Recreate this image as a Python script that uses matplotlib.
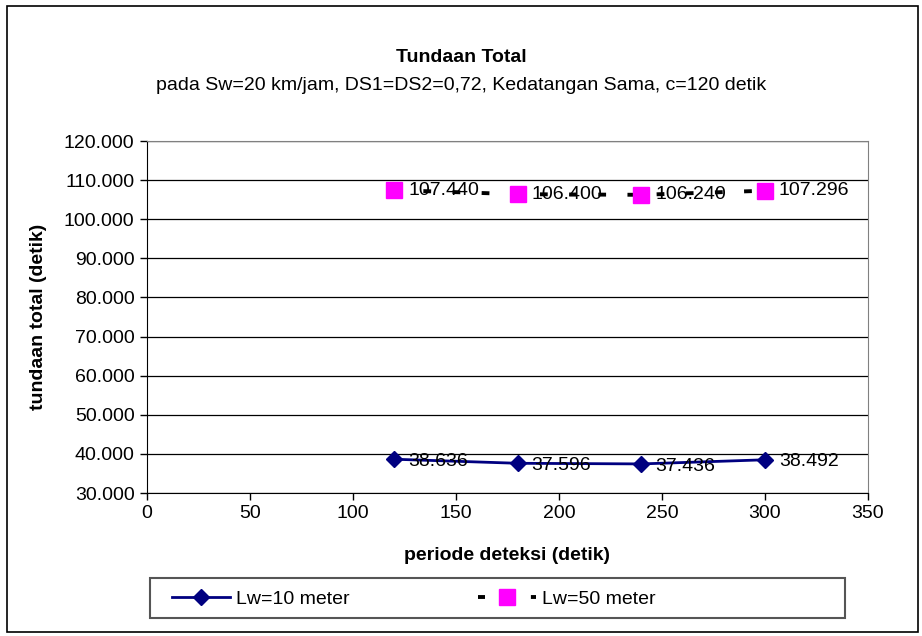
import matplotlib
matplotlib.use("Agg")
import matplotlib.pyplot as plt
from matplotlib.patches import Rectangle
from matplotlib.lines import Line2D

plt.rcParams["font.family"] = ["Liberation Sans", "DejaVu Sans"]

periode = [120, 180, 240, 300]
lw10 = [38.636, 37.596, 37.436, 38.492]
lw50 = [107.440, 106.400, 106.240, 107.296]
labels = ["Lw=10 meter", "Lw=50 meter"]
yticks = [30, 40, 50, 60, 70, 80, 90, 100, 110, 120]
xticks = [0, 50, 100, 150, 200, 250, 300, 350]

fig = plt.figure(figsize=(9.22, 6.36), dpi=100)
ax = fig.add_axes([147 / 922, 1 - 493 / 636, 721 / 922, 352 / 636])

fs = 14
dash = (0, (2, 5.5))

ax.plot(periode, lw10, color="#000080", lw=2, marker="D", ms=8,
        markerfacecolor="#000080", markeredgecolor="#000080", zorder=3)
ax.plot(periode, lw50, color="black", lw=2.8, linestyle=dash,
        marker="s", ms=12, markerfacecolor="#FF00FF", markeredgecolor="#FF00FF",
        zorder=3)

for x, y in zip(periode, lw10):
    ax.annotate(f"{y:.3f}", (x, y), xytext=(10, -1.5), textcoords="offset points",
                ha="left", va="center", fontsize=fs, zorder=4)
for x, y in zip(periode, lw50):
    ax.annotate(f"{y:.3f}", (x, y), xytext=(10, 0), textcoords="offset points",
                ha="left", va="center", fontsize=fs, zorder=4)

ax.set_xlim(0, 350)
ax.set_ylim(30, 120)
ax.set_xticks(xticks)
ax.set_yticks(yticks)
ax.set_yticklabels([f"{v}.000" for v in yticks], fontsize=fs)
ax.set_xticklabels([str(v) for v in xticks], fontsize=fs)
ax.tick_params(direction="out", length=5, width=1, color="black", pad=4)

ax.grid(axis="y", color="black", lw=0.9)
ax.set_axisbelow(True)
for side in ["top", "right"]:
    ax.spines[side].set_color("#808080")
for side in ["left", "bottom"]:
    ax.spines[side].set_color("black")

ax.set_xlabel("periode deteksi (detik)", fontsize=fs, fontweight="bold", labelpad=18)
ax.set_ylabel("tundaan total (detik)", fontsize=fs, fontweight="bold", labelpad=12)

fig.text(0.5, 1 - 58 / 636, "Tundaan Total", ha="center", va="center",
         fontsize=fs, fontweight="bold")
fig.text(0.5, 1 - 85 / 636,
         "pada Sw=20 km/jam, DS1=DS2=0,72, Kedatangan Sama, c=120 detik",
         ha="center", va="center", fontsize=fs)

# legend entries, with the box drawn separately so it spans the full width
handles = [
    Line2D([], [], color="#000080", lw=2, marker="D", ms=8),
    Line2D([], [], color="black", lw=2.8, linestyle=(0, (1.8, 5.0)),
           marker="s", ms=12, markerfacecolor="#FF00FF", markeredgecolor="#FF00FF"),
]
leg = fig.legend(handles, labels, loc="center left", ncol=2,
                 bbox_to_anchor=(164 / 922, 1 - 599 / 636),
                 fontsize=fs, frameon=False, handlelength=3.0,
                 borderaxespad=0, handletextpad=0.3, columnspacing=6.6)
fig.patches.append(Rectangle((150 / 922, 1 - 618 / 636), 695 / 922, 40 / 636,
                             transform=fig.transFigure, fill=False,
                             edgecolor="#555555", lw=1.5))

fig.patches.append(Rectangle((7 / 922, 4 / 636), 911 / 922, 626 / 636,
                             transform=fig.transFigure, fill=False,
                             edgecolor="black", lw=1.2))

fig.savefig("out.png", dpi=100)
